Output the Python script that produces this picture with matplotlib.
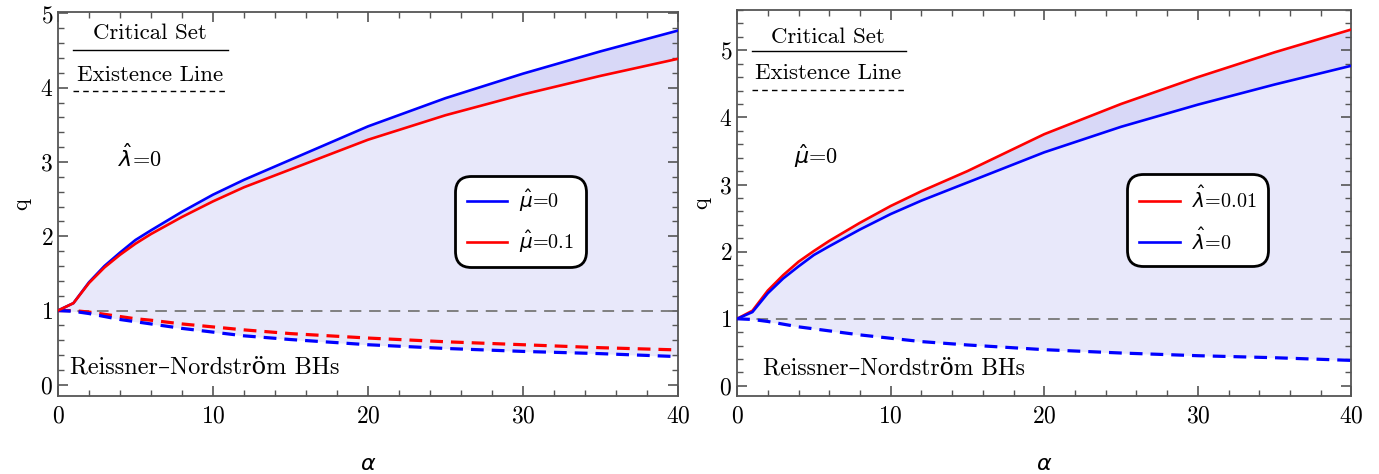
import matplotlib
matplotlib.use("Agg")
import matplotlib.pyplot as plt
from matplotlib.ticker import MultipleLocator
import numpy as np

# ---- data ----
alpha = [0, 1, 2, 3, 4, 5, 6, 8, 10, 12, 15, 20, 25, 30, 35, 40]
crit_mu0 = [1.0, 1.10, 1.38, 1.60, 1.78, 1.95, 2.08, 2.33, 2.56, 2.76, 3.03, 3.48, 3.86, 4.19, 4.49, 4.77]
crit_mu01 = [1.0, 1.10, 1.37, 1.58, 1.75, 1.90, 2.03, 2.26, 2.47, 2.66, 2.90, 3.30, 3.63, 3.91, 4.16, 4.39]
crit_lam001 = [1.0, 1.12, 1.42, 1.65, 1.85, 2.01, 2.16, 2.43, 2.68, 2.90, 3.20, 3.75, 4.20, 4.60, 4.97, 5.31]
exist_mu0 = [1.0, 0.99, 0.96, 0.92, 0.88, 0.85, 0.82, 0.76, 0.71, 0.66, 0.61, 0.54, 0.49, 0.45, 0.42, 0.38]
exist_mu01 = [1.0, 1.0, 0.98, 0.95, 0.92, 0.89, 0.87, 0.82, 0.78, 0.74, 0.69, 0.63, 0.58, 0.54, 0.50, 0.47]

xticks = [0, 10, 20, 30, 40]
left_yticks = [0, 1, 2, 3, 4, 5]
right_yticks = [0, 1, 2, 3, 4, 5]

plt.rcParams['font.family'] = ['cmr10', 'DejaVu Serif']
plt.rcParams['mathtext.fontset'] = 'dejavusans'
plt.rcParams['axes.formatter.use_mathtext'] = True

LIGHT = '#e8e8fa'
DARK = '#d8d8f7'
BLUE = '#0000ff'
RED = '#ff0000'
GRAY = '#808080'
SP = '#555555'

fig = plt.figure(figsize=(13.79, 4.74), dpi=100)
axL = fig.add_axes([0.042, 0.1646, 0.4497, 0.8101])
axR = fig.add_axes([0.5345, 0.1646, 0.4455, 0.8143])

RN = 'Reissner\u2013Nordstr\u00f6m BHs'


def style(ax, ymax, yticks):
    ax.set_xlim(0, 40)
    ax.set_ylim(-0.15, ymax)
    ax.set_xticks(xticks)
    ax.set_yticks(yticks)
    ax.xaxis.set_minor_locator(MultipleLocator(2))
    ax.yaxis.set_minor_locator(MultipleLocator(0.2))
    ax.tick_params(which='both', direction='in', top=True, right=True,
                   color=SP, labelsize=17)
    ax.tick_params(which='major', length=7, width=1.2)
    ax.tick_params(which='minor', length=4, width=1.0)
    ax.tick_params(axis='x', pad=7)
    for s in ax.spines.values():
        s.set_color(SP)
        s.set_linewidth(1.3)
    ax.set_xlabel(r'$\alpha$', fontsize=16, labelpad=19)
    ax.set_ylabel('q', fontsize=16, labelpad=6)
    ax.axhline(1.0, color=GRAY, lw=1.4, ls=(0, (6, 4)), zorder=2)


def header(ax, ycrit, yline, yexist, ydash):
    ax.text(0.148, ycrit, 'Critical Set', transform=ax.transAxes,
            ha='center', va='center', fontsize=16.5)
    ax.plot([0.024, 0.275], [yline, yline], transform=ax.transAxes,
            color='black', lw=1.0)
    ax.text(0.148, yexist, 'Existence Line', transform=ax.transAxes,
            ha='center', va='center', fontsize=16.5)
    ax.plot([0.024, 0.275], [ydash, ydash], transform=ax.transAxes,
            color='black', lw=1.0, ls=(0, (4, 3)))


leg_kw = dict(loc='center', fontsize=14.5, fancybox=True, framealpha=1,
              edgecolor='black', handlelength=2.0, handletextpad=0.6,
              borderpad=0.4, labelspacing=0.75)

# ---- left panel ----
style(axL, 5.02, left_yticks)
axL.fill_between(alpha, exist_mu0, crit_mu01, color=LIGHT, lw=0, zorder=1)
axL.fill_between(alpha, crit_mu01, crit_mu0, color=DARK, lw=0, zorder=1)
lb, = axL.plot(alpha, crit_mu0, color=BLUE, lw=1.9, zorder=4)
lr, = axL.plot(alpha, crit_mu01, color=RED, lw=1.9, zorder=4)
axL.plot(alpha, exist_mu01, color=RED, lw=2.3, ls=(0, (4, 2.5)), zorder=3)
axL.plot(alpha, exist_mu0, color=BLUE, lw=2.3, ls=(0, (4, 2.5)), zorder=3)
header(axL, 0.945, 0.901, 0.836, 0.794)
axL.text(3.9, 3.06, r'$\hat{\lambda}$=0', fontsize=16, va='center')
axL.text(0.75, 0.24, RN, fontsize=17.5, va='center')
legL = axL.legend([lb, lr], [r'$\hat{\mu}$=0', r'$\hat{\mu}$=0.1'],
                  bbox_to_anchor=(0.746, 0.454), **leg_kw)
legL.get_frame().set_linewidth(2.0)
legL.get_frame().set_boxstyle('round,pad=0.2,rounding_size=0.8')

# ---- right panel ----
style(axR, 5.6, right_yticks)
axR.fill_between(alpha, exist_mu0, crit_mu0, color=LIGHT, lw=0, zorder=1)
axR.fill_between(alpha, crit_mu0, crit_lam001, color=DARK, lw=0, zorder=1)
rr, = axR.plot(alpha, crit_lam001, color=RED, lw=1.9, zorder=4)
rb, = axR.plot(alpha, crit_mu0, color=BLUE, lw=1.9, zorder=4)
axR.plot(alpha, exist_mu0, color=BLUE, lw=2.3, ls=(0, (4, 2.5)), zorder=3)
header(axR, 0.930, 0.894, 0.837, 0.793)
axR.text(3.7, 3.43, r'$\hat{\mu}$=0', fontsize=16, va='center')
axR.text(1.7, 0.26, RN, fontsize=17, va='center')
legR = axR.legend([rr, rb], [r'$\hat{\lambda}$=0.01', r'$\hat{\lambda}$=0'],
                  bbox_to_anchor=(0.75, 0.456), **leg_kw)
legR.get_frame().set_linewidth(2.0)
legR.get_frame().set_boxstyle('round,pad=0.2,rounding_size=0.8')

fig.savefig('out.png', dpi=100)
